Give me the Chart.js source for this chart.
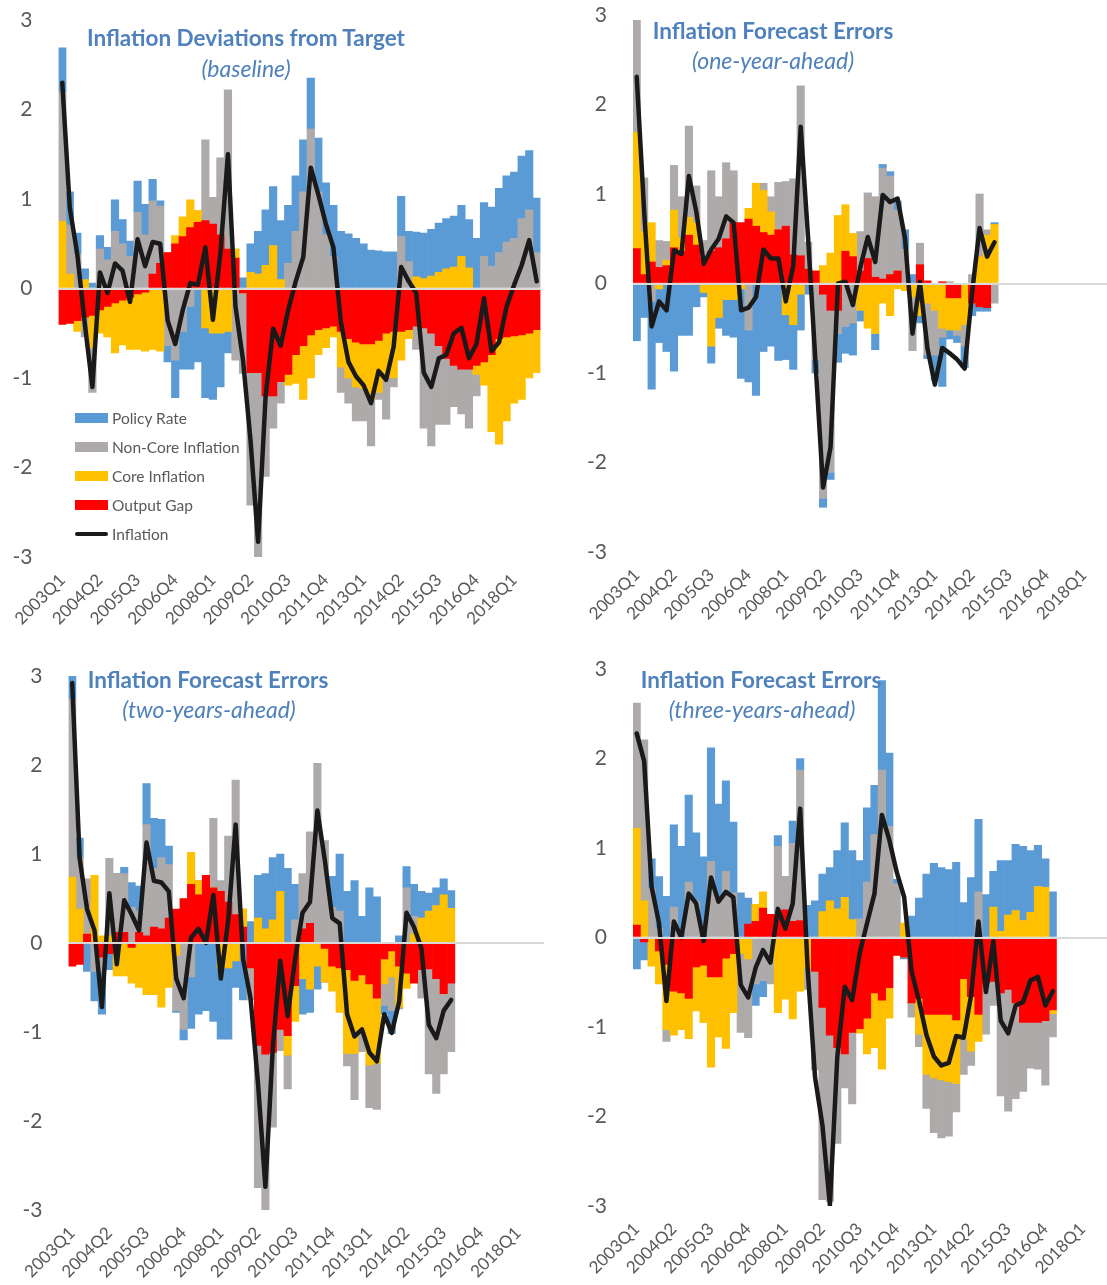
<!DOCTYPE html>
<html>
<head>
<meta charset="utf-8">
<script src="https://cdn.jsdelivr.net/npm/chart.js@4.4.1/dist/chart.umd.min.js"></script>
<style>
  html, body { margin: 0; padding: 0; background: #fff; overflow: hidden; }
  body { width: 1107px; height: 1285px; position: relative; font-family: Lato, sans-serif; }
  canvas { position: absolute; }
  .title { position: absolute; color: #4F81BD; font-weight: bold; font-size: 22.5px; line-height: 22px; white-space: nowrap; transform: translateX(-50%); }
  .sub { font-weight: normal; font-style: italic; font-size: 23px; }
  .legend { position: absolute; left: 75px; top: 403px; font-size: 15.5px; color: #595959; }
  .legend div { height: 29px; display: flex; align-items: center; }
  .legend .sw { width: 33px; height: 10px; margin-right: 4px; }
  .legend .ln { width: 33px; height: 4px; border-radius: 2px; background: #1A1A1A; margin-right: 4px; }
</style>
</head>
<body>
<canvas id="p1" width="553" height="642" style="left:0;top:0"></canvas>
<canvas id="p2" width="560" height="642" style="left:553px;top:0"></canvas>
<canvas id="p3" width="553" height="643" style="left:0;top:642px"></canvas>
<canvas id="p4" width="560" height="643" style="left:553px;top:642px"></canvas>

<div class="title" style="left:246px;top:27px">Inflation Deviations from Target</div>
<div class="title sub" style="left:246px;top:57px">(baseline)</div>
<div class="title" style="left:773px;top:20px">Inflation Forecast Errors</div>
<div class="title sub" style="left:773px;top:49px">(one-year-ahead)</div>
<div class="title" style="left:208px;top:669px">Inflation Forecast Errors</div>
<div class="title sub" style="left:209px;top:698px">(two-years-ahead)</div>
<div class="title" style="left:761px;top:669px">Inflation Forecast Errors</div>
<div class="title sub" style="left:762px;top:698px">(three-years-ahead)</div>

<div class="legend">
  <div><span class="sw" style="background:#5B9BD5"></span>Policy Rate</div>
  <div><span class="sw" style="background:#AEAAAA"></span>Non-Core Inflation</div>
  <div><span class="sw" style="background:#FFC000"></span>Core Inflation</div>
  <div><span class="sw" style="background:#FF0000"></span>Output Gap</div>
  <div><span class="ln"></span>Inflation</div>
</div>

<script>
const quarters = ['2003Q1','2003Q2','2003Q3','2003Q4','2004Q1','2004Q2','2004Q3','2004Q4',
  '2005Q1','2005Q2','2005Q3','2005Q4','2006Q1','2006Q2','2006Q3','2006Q4',
  '2007Q1','2007Q2','2007Q3','2007Q4','2008Q1','2008Q2','2008Q3','2008Q4',
  '2009Q1','2009Q2','2009Q3','2009Q4','2010Q1','2010Q2','2010Q3','2010Q4',
  '2011Q1','2011Q2','2011Q3','2011Q4','2012Q1','2012Q2','2012Q3','2012Q4',
  '2013Q1','2013Q2','2013Q3','2013Q4','2014Q1','2014Q2','2014Q3','2014Q4',
  '2015Q1','2015Q2','2015Q3','2015Q4','2016Q1','2016Q2','2016Q3','2016Q4',
  '2017Q1','2017Q2','2017Q3','2017Q4','2018Q1','2018Q2','2018Q3','2018Q4'];
const yTicks = [-3, -2, -1, 0, 1, 2, 3];
const labelStep = 5;

// baseline
const baseGap = [-0.40,-0.39,-0.36,-0.32,-0.30,-0.24,-0.20,-0.16,-0.13,-0.10,-0.06,-0.04,
  0.16,0.28,0.40,0.50,0.58,0.68,0.74,0.76,0.72,0.60,0.44,0.34,
  -0.05,-0.94,-0.94,-1.20,-1.20,-1.04,-0.96,-0.74,-0.64,-0.52,-0.46,-0.44,
  -0.42,-0.48,-0.56,-0.60,-0.62,-0.62,-0.58,-0.50,-0.48,-0.48,-0.46,-0.42,
  -0.44,-0.50,-0.64,-0.78,-0.86,-0.90,-0.90,-0.86,-0.82,-0.74,-0.56,-0.54,-0.53,-0.52,-0.50,-0.46];
const baseCore = [0.75,0.16,-0.12,0.10,-0.36,-0.26,-0.34,-0.56,-0.50,-0.58,
  -0.62,-0.66,-0.68,-0.70,0,0.09,0.22,0.31,0.13,-0.44,
  -0.50,-0.50,-0.48,0.10,0,0.18,0.16,0.26,0.48,0.10,
  -0.12,-0.32,-0.60,-0.48,-0.28,-0.22,-0.12,-0.40,-0.44,-0.50,
  -0.50,-0.62,-0.58,-0.48,-0.52,-0.32,-0.10,0.13,0.11,0.14,
  0.18,0.22,0.24,0.36,0.23,-0.10,-0.26,-0.86,-1.18,-0.94,
  -0.75,-0.72,-0.50,-0.48];
const baseNonCore = [1.45,0.55,0.38,-0.22,-0.50,0.44,0.32,0.64,0.50,0.36,
  0.85,0.60,0.82,0.64,-0.64,-0.80,-0.48,-0.20,0,0.90,
  0.30,0.86,1.78,-0.80,-0.90,-1.48,-2.07,-0.90,-0.36,-0.24,
  0.28,0.64,1.08,1.78,1.08,0.60,0.36,-0.28,-0.28,-0.38,
  -0.36,-0.52,-0.08,-0.48,-0.10,0.58,0.30,-0.26,-1.12,-1.26,
  -0.88,-0.74,-0.46,-0.50,-0.66,-0.24,0.36,0.25,0.40,0.52,
  0.56,0.78,0.88,0.40];
const basePolicy = [0.49,0.37,0.24,0.12,0.06,0.15,0.14,0.35,0.27,0.17,
  0.35,0.34,0.24,0.06,-0.18,-0.42,-0.42,-0.70,-0.82,-0.78,
  -0.74,-0.60,-0.24,0,0.12,0.32,0.48,0.62,0.66,0.66,
  0.65,0.62,0.58,0.57,0.60,0.58,0.57,0.64,0.61,0.56,
  0.50,0.43,0.42,0.41,0.41,0.45,0.34,0.50,0.51,0.52,
  0.55,0.56,0.57,0.57,0.54,0.56,0.60,0.66,0.72,0.74,
  0.74,0.70,0.66,0.61];
const baseInflation = [2.3,0.9,0.38,-0.4,-1.1,0.18,-0.05,0.28,0.2,-0.15,
  0.55,0.25,0.52,0.5,-0.36,-0.62,-0.24,0.06,0.04,0.46,
  -0.35,0.4,1.5,-0.2,-0.8,-1.7,-2.83,-1.2,-0.45,-0.64,
  -0.24,0.08,0.35,1.35,1.05,0.72,0.46,-0.38,-0.82,-0.98,
  -1.08,-1.28,-0.92,-1.02,-0.65,0.24,0.08,-0.05,-0.94,-1.1,
  -0.78,-0.74,-0.5,-0.44,-0.78,-0.62,-0.11,-0.7,-0.6,-0.2,
  0.04,0.26,0.54,0.08];

// one-year-ahead
const oneGap = [0.39,0.10,0.24,0.18,0.20,0.40,0.36,0.54,0.43,0.28,
  0.36,0.40,0.50,0.68,0.68,0.72,0.64,0.57,0.54,0.60,
  0.64,0.32,0.31,0.16,0.14,-0.12,-0.30,-0.30,0.36,0.30,
  0.14,0.28,0.07,0.05,0.10,0.14,0,0,0.21,0.03,
  0,0.02,-0.16,-0.16,0,-0.22,-0.26,-0.27,0];
const oneCore = [1.30,0.48,0.44,-0.06,0.06,0.42,0.15,0.20,0.25,-0.10,
  -0.70,-0.38,-0.18,-0.18,-0.06,0.12,0.48,0.47,0.26,0,
  -0.35,-0.46,-0.12,0,0,0.20,0.34,0.76,0.52,0.26,
  -0.30,-0.50,-0.56,-0.22,-0.36,-0.06,-0.08,-0.15,-0.36,-0.22,
  -0.30,-0.50,-0.36,-0.36,-0.46,0,0.30,0.54,0.66];
const oneNonCore = [1.25,0.60,-0.20,0.30,0.21,0.50,0.46,1.02,0.41,0.20,
  0.90,0.57,0.85,0.58,0,-0.52,0,0.08,0.17,0.53,
  0.50,0.85,1.90,0.30,-0.85,-2.28,-1.81,-0.26,-0.48,-0.44,
  0.44,0.73,0.90,1.24,1.10,0.68,0.38,-0.60,0.24,-0.58,
  -0.50,-0.10,0.02,-0.06,-0.24,0.10,0.70,0.06,-0.22];
const onePolicy = [-0.64,-0.38,-0.98,-0.60,-0.76,-0.98,-0.58,-0.58,-0.26,-0.05,
  -0.19,-0.12,-0.40,-0.42,-1.00,-0.58,-1.25,-0.76,-0.70,-0.86,
  -0.50,-0.50,-0.40,-0.12,-0.15,-0.10,-0.08,-0.32,-0.30,-0.36,
  -0.12,0,-0.18,0.04,0.05,0.10,0.22,0.10,-0.08,-0.04,
  -0.28,-0.55,-0.10,-0.08,-0.24,-0.14,-0.05,-0.04,0.02];
const oneInflation = [2.31,0.8,-0.48,-0.2,-0.3,0.37,0.33,1.2,0.8,0.22,
  0.38,0.5,0.75,0.68,-0.3,-0.27,-0.15,0.38,0.28,0.28,
  -0.2,0.2,1.75,0.5,-0.9,-2.28,-1.83,0.0,0.02,-0.24,
  0.18,0.52,0.24,0.99,0.91,0.95,0.5,-0.56,0.02,-0.72,
  -1.13,-0.72,-0.78,-0.85,-0.95,-0.1,0.62,0.3,0.46];

// two-years-ahead
const twoGap = [-0.26,-0.24,0.10,0,-0.16,-0.12,0.12,0.12,-0.05,0.12,
  0.08,0.18,0.16,0.28,0.38,0.50,0.66,0.54,0.76,0.62,
  0.58,0.46,0.32,0.18,-0.28,-1.15,-1.25,-1.23,-0.97,-1.04,
  -0.48,0.16,0.22,0,-0.06,-0.26,-0.28,-0.30,-0.42,-0.36,
  -0.46,-0.62,-0.18,-0.09,-0.26,-0.34,-0.45,-0.30,-0.29,-0.40,
  -0.57,-0.45];
const twoCore = [0.74,0.38,0,0.76,0.08,0.08,-0.37,-0.37,-0.40,-0.50,
  -0.58,-0.58,-0.72,-0.50,-0.14,0,0.36,0.16,0,0,
  -0.28,-0.28,-0.20,0.20,0,0.28,0.16,0.26,0.58,-0.22,
  -0.40,-0.40,-0.52,-0.26,-0.38,-0.28,-0.50,-0.94,-0.82,-0.66,
  -0.91,-0.73,-0.28,-0.29,-0.46,-0.17,0.10,0.28,0.36,0.42,
  0.54,0.39];
const twoNonCore = [2.0,0.58,0.62,-0.32,-0.16,0.87,0.66,0.66,0.40,0.24,
  1.25,0.66,0.80,0.60,-0.62,-0.97,-0.38,0,0,0.78,
  0.12,0.74,1.51,0,-0.36,-1.60,-1.75,-0.84,-0.24,-0.38,
  0.26,0.62,1.03,2.02,1.15,0.40,0.36,-0.14,-0.52,-0.20,
  -0.48,-0.52,-0.24,-0.38,-0.02,0.62,0.20,-0.32,-1.18,-1.29,
  -0.90,-0.77];
const twoPolicy = [0.27,0.22,-0.32,-0.33,-0.48,-0.18,0,0.07,0.28,0.28,
  0.46,0.56,0.43,0.21,-0.02,-0.12,-0.58,-0.80,-0.76,-0.88,
  -0.80,-0.80,-0.30,-0.64,0.24,0.48,0.62,0.70,0.42,0.84,
  0.40,-0.40,-0.26,-0.26,0,0.35,0.64,0.58,0.70,0.30,
  0.62,0.52,-0.10,-0.26,0.08,0.24,0.36,0.30,0.20,0.20,
  0.18,0.20];
const twoInflation = [2.92,0.95,0.38,0.14,-0.72,0.56,-0.24,0.48,0.32,0.14,
  1.13,0.7,0.68,0.58,-0.4,-0.62,0.06,0.16,0.0,0.54,
  -0.4,0.26,1.33,-0.18,-0.62,-1.57,-2.74,-1.17,-0.2,-0.82,
  -0.18,0.34,0.46,1.49,0.93,0.28,0.22,-0.8,-1.05,-0.97,
  -1.23,-1.33,-0.8,-1.01,-0.66,0.34,0.18,-0.06,-0.92,-1.07,
  -0.76,-0.64];

// three-years-ahead
const threeGap = [0.14,-0.05,0,-0.15,-0.30,-0.60,-0.62,-0.68,-0.33,-0.31,
  -0.44,-0.44,-0.23,-0.18,0,0.15,0.18,0.33,0.26,0.26,
  0.31,0.18,0.19,0,-0.38,-0.78,-1.09,-1.23,-1.30,-1.06,
  -1.02,-0.90,-0.62,-0.70,-0.56,-0.20,-0.22,-0.73,-0.68,-0.86,
  -0.86,-0.86,-0.86,-0.92,-0.46,-0.66,-0.86,-0.51,-0.49,-0.62,
  -0.58,-0.73,-0.95,-0.95,-0.95,-0.93,-0.81];
const threeCore = [1.08,0.41,-0.32,-0.37,-0.73,-0.49,-0.41,-0.45,-0.49,-0.64,
  -1.01,-0.67,-1.01,-0.66,-0.18,-0.24,0.19,0.18,0,-0.84,
  -0.69,-0.91,-0.60,-0.34,0,0.29,0.41,0.32,0.45,0.20,
  -0.05,-0.40,-0.61,-0.77,-0.34,0,0.16,0,-0.40,-0.67,
  -0.71,-0.73,-0.75,-0.71,-0.67,-0.61,-0.30,0,0.34,0.07,
  0.25,0.30,0.19,0.28,0.57,0.56,-0.04];
const threeNonCore = [1.40,1.80,0.55,0.10,-0.13,0.34,0,0.62,0.40,0,
  0.85,0.45,0.74,0.50,-0.88,-0.88,-0.52,-0.48,-0.52,0.76,
  0.37,0.87,1.68,-0.24,-1.10,-2.15,-1.86,-1.07,-0.38,-0.80,
  0.21,0.62,1.15,1.87,1.24,0.60,0,-0.16,-0.14,-0.38,
  -0.61,-0.65,-0.61,-0.32,-0.40,-0.16,0.51,-0.57,-0.27,-1.15,
  -1.36,-1.07,-0.77,-0.51,-0.52,-0.72,-0.26];
const threePolicy = [-0.35,-0.20,0.33,0.58,0.46,0.92,1.02,0.97,0.77,0.90,
  1.27,1.04,1.01,0.79,0.50,0.29,-0.24,-0.18,0,0.12,
  0,0.25,0.13,0.36,0.41,0.42,0.37,0.65,0.83,0.77,
  0.65,0.83,0.55,1.00,0.82,0.05,-0.02,0.24,0.44,0.71,
  0.83,0.78,0.76,0.84,0.39,0.67,0.81,0.48,0.40,0.79,
  0.61,0.74,0.83,0.69,0.46,0.32,0.51];
const threeInflation = [2.28,1.97,0.57,0.16,-0.71,0.18,0.0,0.49,0.38,-0.04,
  0.67,0.4,0.51,0.45,-0.53,-0.67,-0.34,-0.14,-0.28,0.32,
  0.1,0.38,1.44,-0.34,-1.56,-2.1,-2.99,-1.33,-0.55,-0.7,
  -0.18,0.16,0.49,1.37,1.09,0.73,0.45,-0.38,-0.71,-1.09,
  -1.33,-1.43,-1.4,-1.1,-1.12,-0.65,0.18,-0.61,-0.04,-0.93,
  -1.07,-0.76,-0.72,-0.48,-0.44,-0.76,-0.6];

const colors = { gap: '#FF0000', core: '#FFC000', nonCore: '#AEAAAA', policy: '#5B9BD5', inflation: '#1A1A1A' };

function drawPanel(id, area, gap, core, nonCore, policy, inflation) {
    const canvas = document.getElementById(id);
    const barSet = (label, data, color) => ({
        label: label, data: data, backgroundColor: color, stack: 'parts', order: 2,
        categoryPercentage: 1, barPercentage: 1, borderWidth: 0
    });
    new Chart(canvas.getContext('2d'), {
        type: 'bar',
        data: {
            labels: quarters,
            datasets: [
                barSet('Output Gap', gap, colors.gap),
                barSet('Core Inflation', core, colors.core),
                barSet('Non-Core Inflation', nonCore, colors.nonCore),
                barSet('Policy Rate', policy, colors.policy),
                {
                    type: 'line', label: 'Inflation', data: inflation, stack: 'line', order: 1,
                    borderColor: colors.inflation, borderWidth: 4.5, pointRadius: 0, tension: 0,
                    borderJoinStyle: 'round', borderCapStyle: 'round', fill: false
                }
            ]
        },
        options: {
            responsive: false,
            animation: false,
            events: [],
            layout: { autoPadding: false, padding: { left: 0, right: canvas.width - area.right, top: area.top, bottom: 0 } },
            plugins: { legend: { display: false }, tooltip: { enabled: false } },
            scales: {
                x: {
                    stacked: true,
                    grid: { display: false, drawTicks: false },
                    border: { display: false },
                    ticks: {
                        autoSkip: false, minRotation: 45, maxRotation: 45, padding: 13,
                        color: '#595959', font: { family: 'Lato', size: 17 },
                        callback: function (v, i) { return i % labelStep === 0 ? quarters[i] : null; }
                    },
                    afterFit: function (scale) {
                        scale.height = canvas.height - area.bottom;
                        scale.paddingLeft = 0;
                        scale.paddingRight = 0;
                    }
                },
                y: {
                    stacked: true, min: -3, max: 3,
                    afterBuildTicks: function (scale) { scale.ticks = yTicks.map(v => ({ value: v })); },
                    grid: {
                        drawTicks: false, z: 1, lineWidth: 2,
                        color: ctx => (ctx.tick && ctx.tick.value === 0) ? '#D9D9D9' : 'rgba(0,0,0,0)'
                    },
                    border: { display: false },
                    ticks: {
                        padding: 26, color: '#595959', font: { family: 'Lato', size: 21 },
                        callback: v => String(v)
                    },
                    afterFit: function (scale) {
                        scale.width = area.left;
                        scale.paddingTop = 0;
                        scale.paddingBottom = 0;
                    }
                }
            }
        }
    });
}

drawPanel('p1', { left: 58.5, right: 540.5, top: 20, bottom: 557 }, baseGap, baseCore, baseNonCore, basePolicy, baseInflation);
drawPanel('p2', { left: 80, right: 557, top: 15, bottom: 552 }, oneGap, oneCore, oneNonCore, onePolicy, oneInflation);
drawPanel('p3', { left: 68.5, right: 544, top: 34, bottom: 568 }, twoGap, twoCore, twoNonCore, twoPolicy, twoInflation);
drawPanel('p4', { left: 80, right: 555.5, top: 27, bottom: 564 }, threeGap, threeCore, threeNonCore, threePolicy, threeInflation);
</script>
</body>
</html>
